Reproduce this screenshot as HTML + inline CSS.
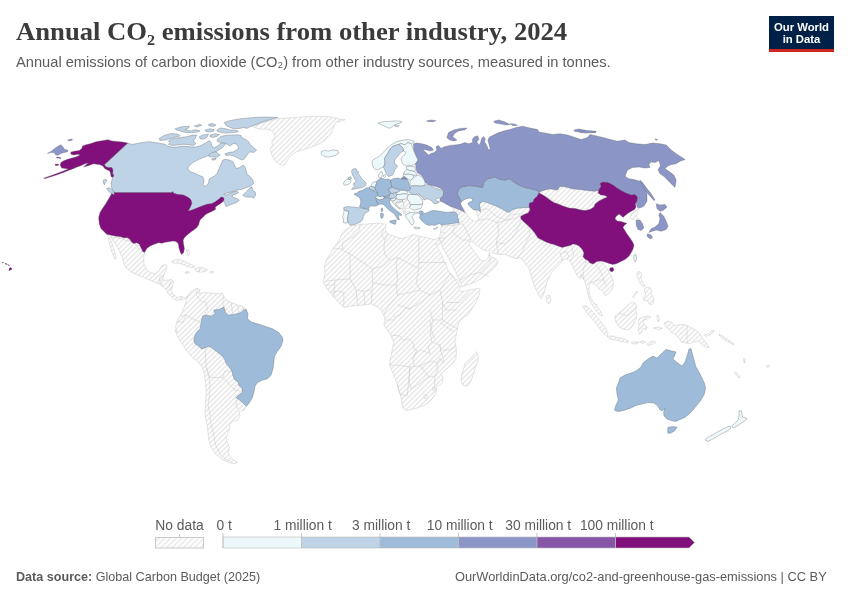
<!DOCTYPE html>
<html lang="en">
<head>
<meta charset="utf-8">
<title>Annual CO₂ emissions from other industry, 2024</title>
<style>
html,body{margin:0;padding:0;background:#fff;}
body{width:850px;height:600px;position:relative;overflow:hidden;font-family:"Liberation Sans",sans-serif;}
.t{position:absolute;white-space:nowrap;transform-origin:0 0;line-height:1;}
#title{left:16px;top:19px;transform:scaleX(1.025);font-family:"Liberation Serif",serif;font-weight:bold;font-size:26px;color:#3b3b3b;}
#sub{left:16px;top:54px;font-size:15px;transform:scaleX(0.977);color:#5b5b5b;}
#logo{position:absolute;left:769px;top:16px;width:65px;height:33px;background:#002147;border-bottom:3px solid #ce261e;color:#fff;font-weight:bold;font-size:11.3px;text-align:center;}
#logo span{position:absolute;left:0;width:65px;line-height:1;white-space:nowrap;}
#src{left:16px;top:570px;font-size:13px;transform:scaleX(0.968);color:#5b5b5b;}
#url{right:23.5px;top:570px;font-size:13px;transform:scaleX(0.987);color:#5b5b5b;transform-origin:100% 0;}
svg{position:absolute;left:0;top:0;}
.lg{font-size:13.8px;fill:#5b5b5b;font-family:"Liberation Sans",sans-serif;}
.nd{fill:url(#hatch);stroke:#c8c8c8;stroke-width:.5;stroke-linejoin:round;}
.sea{fill:#fff;stroke:#c8c8c8;stroke-width:.5}
.bl{fill:none;stroke:#c8c8c8;stroke-width:.5;stroke-linejoin:round}
.c1{fill:#edf8fb}.c2{fill:#bfd3e6}.c3{fill:#9ebcda}.c4{fill:#8c96c6}.c5{fill:#8856a7}.c6{fill:#810f7c}
.c1,.c2,.c3,.c4,.c5,.c6{stroke:#5a5f66;stroke-width:.35;stroke-linejoin:round;}
</style>
</head>
<body>
<div id="title" class="t">Annual CO₂ emissions from other industry, 2024</div>
<div id="sub" class="t">Annual emissions of carbon dioxide (CO₂) from other industry sources, measured in tonnes.</div>
<div id="logo"><span style="top:5.9px" id="l1">Our World</span><span style="top:17.9px" id="l2">in Data</span></div>
<svg width="850" height="600" viewBox="0 0 850 600">
<defs>
<pattern id="hatch" patternUnits="userSpaceOnUse" width="3.6" height="3.6" patternTransform="rotate(45)">
<rect width="3.6" height="3.6" fill="#fff"/>
<line x1="0.9" y1="0" x2="0.9" y2="3.6" stroke="#eaeaea" stroke-width="1.7"/>
</pattern>
<pattern id="hatch2" patternUnits="userSpaceOnUse" width="4" height="4" patternTransform="rotate(45)">
<rect width="4" height="4" fill="#fff"/>
<line x1="1" y1="0" x2="1" y2="4" stroke="#e4e4e4" stroke-width="1.2"/>
</pattern>
</defs>
<g id="map">
<path class="nd" d="M253.3,126.7L260.0,123.4L270.0,120.9L277.6,118.7L288.4,118.0L300.1,117.0L313.5,116.4L325.2,116.4L333.5,117.2L338.5,119.2L345.2,119.7L340.2,121.4L335.2,122.6L334.4,125.9L332.7,129.2L331.9,132.6L328.5,135.9L325.2,140.1L321.8,142.6L316.8,144.8L311.8,146.8L306.8,148.8L301.8,150.1L296.8,151.8L292.6,154.3L289.3,157.6L286.8,161.0L285.1,164.3L281.7,165.5L278.4,163.5L275.1,161.0L272.6,156.8L270.9,152.6L270.4,148.4L272.6,145.1L271.7,141.8L273.4,139.3L275.1,135.9L273.4,132.6L270.9,130.1L266.7,129.2L261.7,129.2L256.7,128.7Z"/>
<path class="nd" d="M631.2,213.8L636.2,210.0L638.8,208.0L637.5,212.5L636.2,216.2L638.8,219.5L636.2,220.5L632.5,219.5L630.0,217.5Z"/>
<path class="nd" d="M538.8,193.0L542.5,190.5L550.0,188.8L557.5,190.0L560.0,186.2L566.2,187.0L572.5,188.8L580.0,189.5L587.5,190.5L595.0,191.2L600.0,190.0L603.8,193.8L607.5,197.5L602.5,198.8L597.5,201.2L595.0,206.2L592.5,209.5L585.0,210.5L575.0,208.8L565.0,208.0L560.0,205.0L555.0,201.2L550.0,198.8L545.0,196.2Z"/>
<path class="nd" d="M396.0,202.5L398.0,201.8L400.5,202.0L403.0,201.5L404.0,204.0L403.5,206.5L402.0,208.0L400.5,209.0L398.0,206.5L395.5,204.0Z"/>
<path class="nd" d="M403.0,201.5L402.0,199.8L405.0,199.0L407.5,199.5L409.5,202.0L410.5,205.0L409.5,207.5L408.0,209.0L406.0,208.5L404.0,207.0L403.5,206.5L404.0,204.0Z"/>
<path class="nd" d="M403.5,211.2L405.0,210.6L406.0,212.5L405.6,215.6L404.4,215.0L403.5,213.1Z"/>
<path class="nd" d="M406.0,212.5L408.1,211.2L410.0,211.2L410.0,212.5L407.5,213.8L405.6,214.4Z"/>
<path class="nd" d="M401.9,208.8L403.8,208.1L405.6,209.4L405.0,210.6L403.5,211.2L402.2,210.2Z"/>
<path class="nd" d="M418.5,194.0L420.5,195.5L422.5,197.5L424.0,199.0L423.5,200.0L422.0,199.5L420.5,197.5L419.0,195.5Z"/>
<path class="nd" d="M451.0,206.0L455.0,207.8L459.0,209.5L462.0,211.0L464.0,212.5L467.0,213.0L470.0,212.0L472.0,214.0L471.0,216.0L468.0,217.0L465.0,217.5L462.0,216.5L459.0,215.0L457.0,213.5L455.0,212.0L454.0,210.0L452.5,208.5Z"/>
<path class="nd" d="M351.2,226.2L360.0,224.5L370.0,223.8L380.0,223.0L386.2,224.5L385.0,228.8L387.5,233.8L393.8,236.2L402.5,238.8L408.8,236.2L413.8,234.5L418.8,236.2L427.5,238.0L435.0,239.5L439.0,237.5L440.5,242.0L438.5,245.5L436.5,243.5L435.5,244.0L437.0,246.5L439.5,251.0L442.5,257.0L445.5,263.0L447.5,269.0L449.5,273.0L451.5,274.0L454.0,278.5L457.0,282.5L460.0,287.0L459.0,289.5L461.0,291.5L465.0,291.0L470.0,290.0L475.0,289.0L479.0,288.2L480.0,289.5L479.5,293.0L478.5,297.0L476.5,301.5L474.0,306.0L471.0,310.5L468.0,315.0L462.5,318.0L458.8,322.5L457.5,328.8L456.2,335.0L455.0,341.2L456.2,347.5L456.4,353.0L456.0,359.0L453.0,363.0L449.0,367.0L444.0,371.0L441.0,374.0L443.0,377.0L442.4,382.0L440.0,385.0L437.0,386.0L436.4,390.0L435.0,395.0L432.0,399.0L428.0,403.0L423.0,406.0L417.0,408.0L411.0,409.6L406.0,410.4L403.0,408.0L402.0,403.0L401.0,397.0L399.0,391.0L397.0,384.0L395.0,378.0L392.0,371.0L389.6,365.0L390.0,360.0L391.2,355.0L392.5,348.8L393.8,342.5L391.2,336.2L387.5,330.0L383.8,325.0L385.0,320.0L383.8,315.0L381.2,310.0L376.2,306.2L371.2,303.8L365.0,305.0L357.5,305.5L350.0,306.2L343.8,307.5L338.8,302.5L333.8,297.5L330.0,292.5L326.2,287.5L323.0,282.5L323.8,278.8L325.0,272.5L324.5,266.2L326.2,260.0L330.0,253.8L333.8,247.5L338.8,241.2L341.2,235.0L345.0,230.0Z"/>
<path class="nd" d="M476.0,351.6L478.0,355.0L478.4,360.0L476.0,366.0L474.0,372.0L472.0,378.0L470.0,383.0L467.0,386.0L463.0,385.6L461.0,381.0L461.6,375.0L463.6,369.0L465.0,363.0L469.0,360.0L472.0,357.0L474.4,353.6Z"/>
<path class="nd" d="M439.0,238.0L440.5,241.5L441.0,244.0L443.8,249.5L449.0,259.0L453.8,268.5L458.0,276.8L461.0,283.5L460.8,287.2L465.0,285.5L470.0,284.0L475.0,282.0L480.0,279.5L484.0,276.5L488.0,273.0L492.0,270.0L496.0,266.0L498.0,262.0L496.5,259.0L492.0,257.5L489.5,255.0L489.5,252.0L488.0,258.0L486.0,260.5L482.0,261.0L479.0,258.0L476.5,254.5L474.0,251.0L471.5,248.0L469.5,244.5L469.5,241.5L472.0,241.5L475.0,243.5L479.0,247.0L483.0,249.5L486.5,251.0L490.0,250.5L492.0,252.5L496.0,254.0L500.0,254.5L505.0,254.5L512.5,257.5L516.2,258.8L520.0,257.5L523.8,261.2L526.2,265.0L528.8,267.5L530.0,272.5L532.5,280.0L535.0,287.5L538.8,295.0L541.2,298.8L543.8,293.8L545.5,287.5L547.5,281.2L550.0,275.0L553.8,270.0L558.8,265.0L562.5,260.5L566.2,258.8L570.0,261.2L572.5,266.2L575.0,271.2L577.5,276.2L580.0,278.8L582.5,275.0L581.0,275.0L584.0,280.0L586.0,285.0L587.0,290.0L588.0,295.0L589.6,300.0L591.6,304.0L594.0,308.0L597.0,312.0L600.0,315.6L602.4,316.0L601.0,312.0L598.0,308.0L595.0,304.0L592.0,300.0L590.0,296.0L589.0,291.0L589.0,286.0L591.0,282.0L594.0,284.0L597.0,286.0L599.0,289.0L602.0,290.0L604.0,293.0L605.6,296.0L609.0,293.0L612.4,289.0L613.6,283.0L612.0,277.0L609.0,272.0L606.0,267.0L603.0,263.0L600.0,256.0L580.0,232.5L530.0,205.0L480.0,200.0L465.0,205.0L455.0,217.5L441.2,226.2L440.5,232.5L439.5,238.8Z"/>
<path class="nd" d="M546.2,296.2L549.5,295.0L551.2,300.0L548.8,303.8L546.2,301.2Z"/>
<path class="nd" d="M582.4,306.0L586.0,305.6L590.0,309.0L594.0,313.0L598.0,318.0L602.0,323.0L605.6,328.0L608.0,333.0L607.0,336.0L604.0,334.0L600.0,329.0L596.0,324.0L592.0,319.0L588.0,314.0L584.4,309.6Z"/>
<path class="nd" d="M607.0,336.4L612.0,336.0L618.0,337.6L624.0,339.0L629.0,341.0L628.0,342.4L622.0,341.6L616.0,340.0L610.0,339.0Z"/>
<path class="nd" d="M631.0,342.4L635.0,341.6L639.0,342.4L636.0,344.0L632.0,343.6Z"/>
<path class="nd" d="M640.0,341.6L644.0,341.0L646.0,342.4L642.0,343.6Z"/>
<path class="nd" d="M647.0,344.0L650.0,342.0L654.0,341.0L656.0,342.4L652.0,344.4L648.0,345.6Z"/>
<path class="nd" d="M615.0,316.0L619.0,313.0L623.0,310.0L627.0,306.0L631.0,302.4L635.0,303.0L637.0,306.0L635.6,310.0L637.0,314.0L636.0,319.0L634.0,324.0L631.0,328.0L628.0,330.0L623.0,329.0L619.0,327.0L616.4,323.0L615.0,319.0Z"/>
<path class="nd" d="M639.0,319.0L643.0,317.0L648.0,316.0L651.0,317.0L647.0,319.0L643.0,320.4L644.0,324.0L647.0,327.0L646.0,330.0L643.0,328.4L642.0,332.0L639.6,334.0L638.0,330.0L639.0,325.0L638.0,322.0Z"/>
<path class="nd" d="M637.0,272.0L640.0,271.6L641.6,275.0L641.0,279.0L643.0,283.0L645.0,286.0L643.0,287.0L640.4,284.0L638.4,280.0L637.0,276.0Z"/>
<path class="nd" d="M645.0,288.0L649.0,287.0L652.0,290.0L651.0,293.0L653.0,297.0L654.0,301.0L652.0,305.0L649.0,303.6L647.0,300.0L644.4,301.0L643.0,298.0L645.6,295.0L644.4,291.0Z"/>
<path class="nd" d="M632.4,297.0L637.0,291.0L637.6,292.0L633.6,298.0Z"/>
<path class="nd" d="M657.0,315.0L659.0,316.0L659.4,320.0L658.0,322.0L657.0,319.0Z"/>
<path class="nd" d="M664.0,323.0L668.0,321.0L672.0,322.4L674.0,325.6L678.0,325.0L684.0,324.4L690.0,327.0L696.0,330.0L700.0,334.0L703.0,339.0L707.0,344.0L709.0,347.6L705.0,347.0L701.0,344.0L698.0,341.0L694.0,342.0L690.0,343.6L686.0,343.0L681.0,342.0L679.0,338.0L675.0,334.0L671.0,332.0L669.0,329.0L666.0,327.0Z"/>
<path class="nd" d="M704.4,335.0L709.0,333.0L713.0,330.0L714.4,331.0L711.0,334.4L706.0,336.4Z"/>
<path class="nd" d="M719.0,334.0L723.0,336.4L727.0,339.0L731.0,341.6L734.0,344.0L733.6,345.0L729.0,342.4L724.0,339.6L719.6,336.0Z"/>
<path class="nd" d="M653.0,328.0L658.0,327.0L663.0,328.4L658.0,329.6Z"/>
<path class="nd" d="M734.4,372.6L736.0,372.0L739.6,376.0L740.0,378.0L738.0,377.4L735.6,374.6Z"/>
<path class="nd" d="M743.6,358.6L744.8,358.6L745.2,362.6L744.0,363.0Z"/>
<path class="nd" d="M766.0,366.0L769.0,365.0L769.6,366.6L767.0,367.4Z"/>
<path class="nd" d="M106.2,233.8L125.0,237.5L142.5,247.5L144.8,252.2L143.8,257.5L143.8,263.8L146.2,268.8L150.0,272.5L155.0,273.8L158.8,271.2L161.2,266.2L165.0,264.5L167.0,266.2L165.5,271.2L163.8,275.0L162.5,279.5L166.2,280.5L171.2,279.5L173.8,282.0L172.5,286.2L171.2,291.2L173.8,295.0L177.5,297.5L181.2,296.2L185.0,298.0L187.5,296.2L183.8,300.0L180.0,299.5L176.2,300.5L172.5,297.5L168.8,294.5L166.2,290.0L162.5,286.2L158.8,283.8L153.8,282.0L148.8,279.5L143.8,277.5L137.5,275.0L131.2,272.0L126.2,268.0L123.8,263.8L122.5,257.5L120.0,252.5L117.5,247.5L113.8,242.0L111.2,237.5Z"/>
<path class="nd" d="M108.8,237.5L111.2,241.2L113.0,246.2L115.0,252.5L116.2,258.0L115.0,259.5L113.0,255.0L111.2,250.0L110.0,245.0L108.0,240.0Z"/>
<path class="nd" d="M172.0,261.2L176.2,259.5L181.2,260.0L186.2,262.0L191.2,264.5L195.0,267.0L191.2,267.5L186.2,266.2L181.2,263.8L176.2,263.0L172.5,263.0Z"/>
<path class="nd" d="M195.0,268.8L198.8,267.5L203.8,268.0L207.5,270.0L203.8,272.0L198.8,272.0L195.5,271.2Z"/>
<path class="nd" d="M185.0,272.0L188.8,271.5L189.5,273.0L185.8,273.5Z"/>
<path class="nd" d="M210.0,271.5L213.0,271.2L213.2,272.8L210.2,273.0Z"/>
<path class="nd" d="M186.2,250.0L188.8,249.5L190.0,252.5L188.0,256.2L187.0,252.5Z"/>
<path class="nd" d="M187.5,296.2L190.0,292.5L193.8,290.0L197.5,288.0L200.0,290.0L198.8,293.8L203.8,292.5L210.0,293.0L216.2,293.8L222.5,293.0L223.8,296.2L226.2,300.0L231.2,302.5L237.5,305.0L242.5,306.2L246.2,309.5L247.0,325.0L257.5,377.5L251.2,396.2L249.5,402.5L246.2,406.2L243.8,410.5L238.8,411.2L240.0,416.2L237.5,420.0L232.5,421.2L229.5,425.0L230.0,428.8L228.0,432.5L226.2,437.5L227.5,442.5L229.5,447.5L228.0,452.5L230.0,456.2L233.8,460.0L237.5,462.5L233.8,463.8L227.5,462.0L221.2,458.8L215.5,453.8L211.2,447.5L208.8,440.0L208.0,432.5L207.0,425.0L205.5,417.5L205.0,410.0L205.5,401.2L206.2,392.5L205.5,383.8L204.5,375.0L202.5,367.5L197.5,361.2L191.2,356.2L186.2,350.0L181.2,342.5L177.5,336.2L175.0,330.0L177.0,332.5L175.5,327.5L177.0,321.2L180.0,316.2L182.5,311.2L185.0,305.0L186.2,300.0Z"/>
<path class="bl" d="M389.6,365.0L400.0,365.6L410.0,367.0L416.0,366.4L420.0,366.0"/>
<path class="bl" d="M397.0,384.0L400.0,394.0L407.0,396.0L408.0,388.0L410.0,367.0"/>
<path class="bl" d="M410.0,367.0L409.0,380.0L411.0,389.0L418.0,385.0L424.0,380.0L429.0,377.0L426.0,373.0L422.0,368.0L420.0,366.0"/>
<path class="bl" d="M420.0,366.0L426.0,363.0L432.0,361.0L437.0,363.0L437.6,370.0L435.0,376.0L429.0,377.0"/>
<path class="bl" d="M437.0,363.0L440.0,358.0L443.0,363.0L444.0,360.0L441.0,352.0L440.0,346.0"/>
<path class="bl" d="M413.0,359.0L415.0,354.0L420.0,350.0L426.0,352.0L430.0,354.0L428.0,346.0L432.0,342.0L440.0,345.0L441.0,352.0"/>
<path class="bl" d="M391.0,335.0L400.0,336.0L403.0,340.0L409.0,339.0L413.0,342.0L414.0,349.0L417.0,350.0L413.0,359.0L414.0,365.0"/>
<path class="bl" d="M430.0,320.0L431.0,328.0L430.0,334.0L432.0,342.0"/>
<path class="bl" d="M442.0,350.0L448.0,350.0L455.6,347.0"/>
<path class="bl" d="M440.0,322.0L448.0,328.0L454.0,332.0"/>
<path class="bl" d="M435.0,376.0L434.4,386.0L436.4,390.0"/>
<path class="bl" d="M423.6,395.6L426.0,394.4L427.6,397.0L425.0,399.0L423.6,395.6"/>
<path class="bl" d="M432.0,388.0L434.0,387.0L435.0,389.6L433.0,391.0L432.0,388.0"/>
<path class="bl" d="M360.0,224.5L358.8,231.2L353.8,236.2L347.5,240.0L342.5,242.5L342.5,248.8L343.8,251.2L350.0,253.8L350.0,278.8L335.0,280.0L325.0,281.2"/>
<path class="bl" d="M342.5,248.8L333.8,248.8"/>
<path class="bl" d="M350.0,253.8L372.5,268.8L382.5,266.2L390.0,260.0"/>
<path class="bl" d="M383.8,228.8L381.2,235.0L385.0,240.0L383.8,247.5L385.0,255.0L390.0,260.0L397.5,257.5"/>
<path class="bl" d="M385.0,240.0L388.0,233.8"/>
<path class="bl" d="M418.8,236.2L418.8,268.8"/>
<path class="bl" d="M397.5,257.5L402.5,260.0L418.8,268.8"/>
<path class="bl" d="M418.8,262.5L446.2,262.5"/>
<path class="bl" d="M397.5,257.5L396.2,263.8L397.5,280.0L396.2,285.0"/>
<path class="bl" d="M372.5,268.8L372.5,282.5L385.0,285.0L396.2,285.0"/>
<path class="bl" d="M418.8,268.8L416.2,282.5L420.0,290.0"/>
<path class="bl" d="M420.0,290.0L430.0,295.0L440.0,290.0L446.2,280.0L450.0,273.8"/>
<path class="bl" d="M450.0,273.8L460.0,282.5"/>
<path class="bl" d="M446.2,302.5L460.0,302.5L470.0,292.5"/>
<path class="bl" d="M440.0,290.0L442.5,302.5L446.2,310.0L457.5,310.0"/>
<path class="bl" d="M372.5,282.5L371.2,303.8"/>
<path class="bl" d="M396.2,285.0L397.5,295.0L387.5,307.5L383.8,315.0"/>
<path class="bl" d="M397.5,295.0L410.0,292.5L420.0,290.0"/>
<path class="bl" d="M397.5,305.0L410.0,308.8L420.0,302.5L430.0,295.0"/>
<path class="bl" d="M393.8,317.5L400.0,315.0L406.2,307.5L410.0,308.8"/>
<path class="bl" d="M385.0,320.0L395.0,320.0"/>
<path class="bl" d="M442.5,302.5L442.5,320.0L446.2,322.5L457.5,328.8"/>
<path class="bl" d="M432.5,320.0L442.5,320.0"/>
<path class="bl" d="M430.0,310.0L432.5,320.0L431.2,330.0L435.0,340.0"/>
<path class="bl" d="M335.0,280.0L333.8,297.5"/>
<path class="bl" d="M343.8,292.5L343.8,307.5"/>
<path class="bl" d="M356.2,290.0L357.5,305.5"/>
<path class="bl" d="M363.8,291.2L365.0,305.0"/>
<path class="bl" d="M350.0,278.8L356.2,290.0L363.8,291.2L371.2,290.0"/>
<path class="bl" d="M325.0,285.0L335.0,285.0"/>
<path class="bl" d="M330.0,292.5L337.5,291.2L343.8,292.5"/>
<path class="bl" d="M442.5,226.2L455.0,225.0L462.5,223.8"/>
<path class="bl" d="M462.5,223.8L467.5,232.5L471.2,240.0"/>
<path class="bl" d="M455.0,225.0L452.5,232.5L445.0,237.5L442.0,243.8"/>
<path class="bl" d="M452.5,232.5L462.5,240.0L471.2,240.0"/>
<path class="bl" d="M460.5,280.0L470.0,275.0L480.0,272.5L488.8,276.2"/>
<path class="bl" d="M480.0,272.5L490.0,262.5L490.0,255.0"/>
<path class="bl" d="M475.0,221.2L487.5,218.8L497.5,222.5L498.8,232.5L496.2,242.5L498.8,255.0"/>
<path class="bl" d="M497.5,222.5L507.5,220.0L517.5,217.5L523.0,213.8"/>
<path class="bl" d="M496.2,242.5L505.0,243.8L512.5,237.5L517.5,230.0L520.0,222.5L523.0,213.8"/>
<path class="bl" d="M516.2,258.8L522.5,251.2L526.2,242.5L530.0,235.0L528.8,227.5L525.0,222.5"/>
<path class="bl" d="M477.5,210.0L487.5,208.8L497.5,217.5L507.5,220.0"/>
<path class="bl" d="M507.5,220.0L510.0,215.0L520.0,213.8"/>
<path class="bl" d="M562.5,260.5L560.0,253.8L566.2,251.2L568.8,256.2L566.2,258.8"/>
<path class="bl" d="M571.2,245.0L573.8,255.0L570.0,261.2"/>
<path class="bl" d="M441.2,232.5L445.0,232.5"/>
<path class="bl" d="M440.0,238.8L445.0,237.5"/>
<path class="bl" d="M584.0,280.0L583.0,270.0L586.0,262.0L584.0,256.0"/>
<path class="bl" d="M594.0,262.0L600.0,270.0L604.0,280.0L606.0,286.0"/>
<path class="bl" d="M591.0,282.0L598.0,280.0L604.0,280.0"/>
<path class="bl" d="M595.0,304.0L598.0,305.0"/>
<path class="bl" d="M619.0,313.0L627.0,316.0L634.0,310.0"/>
<path class="bl" d="M687.0,325.6L687.0,343.0"/>
<path class="bl" d="M586.0,262.0L594.0,262.0L600.0,256.0"/>
<path class="bl" d="M197.5,288.0L196.2,295.0L201.2,301.2L206.2,302.5L207.5,310.0L202.5,316.2"/>
<path class="bl" d="M180.0,316.2L186.2,315.0L192.5,318.8L201.2,322.5"/>
<path class="bl" d="M177.0,321.2L182.5,322.5L186.2,315.0"/>
<path class="bl" d="M223.8,296.2L222.5,302.5L225.0,311.2"/>
<path class="bl" d="M231.2,302.5L232.5,313.8"/>
<path class="bl" d="M237.5,305.0L238.8,313.0"/>
<path class="bl" d="M242.5,306.2L243.8,310.0"/>
<path class="bl" d="M144.8,252.2L140.0,250.0L133.8,242.5L125.0,240.0L117.5,237.5L111.2,237.5"/>
<path class="bl" d="M163.8,275.0L160.0,276.2L158.8,283.8"/>
<path class="bl" d="M162.5,279.5L160.0,281.2L162.5,286.2"/>
<path class="bl" d="M171.2,279.5L170.0,285.0L166.2,290.0"/>
<path class="bl" d="M172.5,286.2L168.8,290.0"/>
<path class="bl" d="M173.8,295.0L172.5,297.5"/>
<path class="bl" d="M181.2,296.2L180.0,299.5"/>
<path class="bl" d="M198.8,267.5L199.5,272.0"/>
<path class="bl" d="M205.0,348.0L205.5,357.5L206.2,367.5"/>
<path class="bl" d="M206.2,367.5L210.0,377.5L222.5,377.5L225.0,371.2L232.5,371.2"/>
<path class="bl" d="M222.5,377.5L235.0,390.0L240.0,391.2"/>
<path class="bl" d="M208.8,376.2L210.0,385.0L209.5,395.0L208.0,405.0L210.0,415.0L211.2,425.0L213.8,435.0L215.5,445.0L220.0,453.8L225.0,458.8L230.0,461.2"/>
<path class="bl" d="M236.2,397.5L236.2,405.0L237.5,408.8"/>
<path class="bl" d="M206.2,367.5L208.8,376.2"/>
<path class="sea" d="M460.0,202.5L461.5,201.0L464.5,199.2L468.0,198.0L471.2,197.8L472.8,199.5L472.0,201.7L469.6,202.4L468.0,203.6L469.2,205.5L471.2,207.5L473.6,209.5L475.6,210.0L476.6,212.0L477.6,215.0L478.6,218.0L478.3,220.5L476.0,221.6L473.5,220.6L471.0,219.6L469.0,217.6L467.0,215.0L465.5,212.2L464.0,209.6L462.2,206.6L460.8,205.0Z"/>
<path class="c1" d="M321.0,151.8L324.3,150.5L328.5,151.0L333.5,149.8L337.7,150.6L338.9,153.1L336.0,155.1L331.9,156.5L327.7,157.1L323.5,156.0L321.5,154.3Z"/>
<path class="c1" d="M378.0,123.1L383.4,121.7L389.2,121.4L395.9,120.9L401.8,121.4L400.9,123.1L397.6,123.7L394.2,125.1L391.7,127.1L389.2,128.4L385.9,126.7L381.7,125.1Z"/>
<path class="c1" d="M394.2,125.4L399.3,125.4L398.4,126.7L395.1,126.4Z"/>
<path class="c1" d="M634.0,255.0L636.0,254.6L636.6,258.0L635.4,262.0L633.8,260.0Z"/>
<path class="c1" d="M343.5,183.5L344.5,181.0L346.5,179.5L348.0,179.0L350.0,179.5L351.0,180.5L350.5,182.5L349.0,184.0L346.5,185.0L344.2,185.2Z"/>
<path class="c1" d="M371.5,184.0L373.0,182.2L376.0,181.5L376.5,183.5L375.5,185.8L375.0,188.0L373.5,186.8L371.0,186.2Z"/>
<path class="c1" d="M378.5,175.0L380.0,172.5L382.0,171.5L382.5,173.5L382.0,176.0L381.0,178.0L379.5,178.0L378.5,176.5Z"/>
<path class="c1" d="M383.5,175.0L385.5,174.5L386.0,176.5L384.5,177.5L383.5,176.5Z"/>
<path class="c1" d="M376.5,198.5L375.5,197.5L376.5,196.5L377.5,195.8L380.0,196.5L382.0,196.0L384.0,196.5L384.2,197.5L383.5,199.0L381.5,199.5L379.5,200.0L378.0,199.5Z"/>
<path class="c1" d="M398.0,192.0L400.0,190.5L404.0,190.0L407.0,191.0L408.0,192.5L406.0,194.0L403.0,194.0L400.0,194.5L397.0,194.5L395.5,192.8Z"/>
<path class="c1" d="M397.0,194.5L400.0,194.5L403.0,194.0L406.0,194.0L408.5,194.5L407.5,197.0L405.0,199.0L402.0,199.8L399.0,200.0L396.5,198.5L396.0,196.5Z"/>
<path class="c1" d="M391.0,198.5L394.0,198.0L396.5,198.5L395.5,200.0L393.0,201.0L391.0,200.8L390.5,200.0Z"/>
<path class="c1" d="M393.0,201.0L395.5,200.0L396.5,198.5L399.0,200.0L402.0,199.8L403.0,201.5L400.5,202.0L398.0,201.8L396.0,202.5L395.5,204.0L398.0,206.5L400.5,209.0L399.0,208.8L396.0,206.0L394.0,203.5L392.5,202.5Z"/>
<path class="c1" d="M407.5,197.0L408.5,194.5L411.5,194.5L415.0,194.5L418.0,195.0L420.5,197.5L422.0,200.0L423.0,202.0L422.5,204.0L420.0,204.5L417.0,204.8L414.0,204.5L411.5,204.5L410.5,205.0L409.5,202.0L407.5,199.5Z"/>
<path class="c1" d="M410.5,205.0L411.5,204.5L414.0,204.5L417.0,204.8L420.0,204.5L422.5,204.0L422.0,206.5L421.0,208.5L418.0,209.0L415.0,210.0L412.0,209.5L409.5,207.5Z"/>
<path class="c1" d="M372.0,161.0L373.5,159.5L376.0,158.0L379.0,156.5L381.0,154.5L383.5,152.0L386.5,149.0L389.5,146.0L392.5,144.0L396.0,142.0L400.0,140.8L405.0,139.8L409.0,139.8L412.5,140.5L414.5,141.5L413.0,142.5L411.5,144.0L409.0,142.8L407.0,143.0L405.5,144.5L403.5,144.5L401.0,143.5L398.5,144.5L397.0,145.0L395.0,145.5L392.5,146.5L390.5,148.5L389.0,151.0L387.5,154.0L385.5,156.5L384.5,159.0L385.0,162.0L384.5,165.0L383.5,167.0L381.0,168.0L378.0,169.5L375.5,169.5L373.5,168.0L372.5,165.0Z"/>
<path class="c1" d="M398.5,144.5L401.0,143.5L403.5,144.5L405.5,144.5L407.0,143.0L409.0,142.8L411.5,144.0L412.0,146.0L413.0,148.5L414.0,151.0L415.5,154.0L417.0,156.5L419.0,159.0L418.0,161.0L416.0,163.5L414.0,164.8L410.5,165.5L407.0,165.8L404.5,165.0L402.5,163.5L401.5,161.0L401.0,158.5L402.5,156.5L405.0,154.5L406.0,152.5L403.5,151.0L403.0,148.5L401.0,146.0Z"/>
<path class="c1" d="M406.0,167.0L409.0,166.2L412.0,166.5L415.0,167.0L415.5,169.5L415.0,171.5L412.0,171.0L409.5,170.5L407.0,169.5Z"/>
<path class="c1" d="M403.5,174.0L404.5,171.5L407.0,169.5L409.5,170.5L412.0,171.0L415.0,171.5L416.5,174.0L417.0,175.0L414.0,175.5L411.0,174.5L408.0,174.0L406.0,174.5Z"/>
<path class="c1" d="M403.5,174.0L406.0,174.5L408.0,174.0L411.0,174.5L414.0,175.5L413.0,178.0L411.0,180.0L408.5,180.0L407.5,179.0L405.0,177.0L403.5,176.5Z"/>
<path class="c1" d="M343.8,209.4L345.6,210.6L348.8,211.2L348.1,215.0L347.5,219.4L348.1,222.8L345.6,223.1L343.1,222.5L343.5,219.4L342.5,216.9L343.5,213.8L344.0,211.2Z"/>
<path class="c1" d="M405.6,215.6L407.5,213.8L410.0,212.5L413.1,212.5L416.2,211.9L418.1,212.5L416.2,213.8L413.8,213.8L413.1,215.6L411.9,216.9L413.1,219.4L414.4,221.9L413.1,224.4L411.5,225.0L410.0,223.1L408.8,220.6L407.2,218.8L406.2,217.2Z"/>
<path class="c1" d="M414.0,227.2L416.9,227.2L420.0,227.8L419.8,228.8L416.2,228.8L414.4,228.2Z"/>
<path class="c1" d="M433.5,228.5L435.6,227.8L437.8,226.9L436.9,228.5L435.0,229.5L433.8,229.2Z"/>
<path class="c1" d="M410.0,181.5L412.0,179.0L415.0,176.5L418.0,175.0L420.5,176.0L422.5,178.0L424.5,180.0L426.5,181.5L425.0,183.5L424.0,185.5L421.0,186.2L417.0,185.8L413.5,185.8L411.0,186.2L410.0,184.0Z"/>
<path class="c1" d="M739.0,411.0L741.0,410.6L742.0,414.0L742.4,417.0L747.0,418.6L744.0,421.4L740.0,424.0L736.0,426.6L733.0,428.0L732.0,426.0L735.0,423.0L738.0,420.0L739.0,416.0Z"/>
<path class="c1" d="M705.6,439.0L709.0,436.6L714.0,434.0L720.0,430.6L726.0,427.4L730.0,426.0L731.0,428.0L728.0,430.6L722.4,433.4L717.0,436.6L712.0,439.4L708.0,441.4L705.6,440.6Z"/>
<path class="c2" d="M127.7,143.1L131.9,144.4L136.9,143.6L141.9,142.6L146.9,141.9L149.9,141.7L150.0,141.7L155.0,142.6L160.0,143.4L165.0,144.2L167.5,145.9L171.7,147.1L176.7,147.1L183.4,146.1L190.1,146.8L195.9,147.1L200.1,145.8L205.1,143.4L209.3,140.6L211.1,142.6L211.8,145.9L214.3,147.8L217.7,145.9L220.2,143.4L223.5,142.6L225.5,144.2L222.2,147.8L217.2,150.9L212.1,153.8L205.5,156.8L198.8,159.3L192.8,162.6L188.3,166.8L187.8,168.8L190.3,171.8L194.4,173.1L198.6,175.2L202.8,176.8L204.0,180.2L203.1,184.3L204.5,186.5L207.0,185.5L208.6,182.7L209.0,179.3L211.1,177.7L214.5,176.0L217.0,173.5L218.7,169.3L220.3,166.0L221.7,162.6L222.8,160.1L225.3,159.3L229.5,160.1L232.9,161.8L234.5,165.1L236.2,168.5L239.5,167.6L242.9,165.1L245.1,166.8L246.2,171.0L247.1,174.3L250.4,176.8L252.9,180.2L253.7,183.5L250.4,186.0L246.2,187.7L241.2,189.4L236.2,190.2L232.0,191.9L227.8,192.7L223.7,194.4L226.0,195.2L229.4,193.5L233.5,191.9L236.9,191.0L238.5,192.7L235.2,194.4L231.9,195.5L233.5,197.7L236.9,198.5L239.4,200.2L236.9,202.2L232.7,203.9L228.5,205.6L226.0,206.6L224.8,203.6L223.5,201.0L216.8,203.6L200.1,208.6L198.6,220.1L140.1,220.1L115.1,220.1L116.9,200.2L115.2,193.5L113.5,191.0L111.9,188.5L111.0,184.3L111.9,180.1L112.7,177.1L110.7,173.5L109.9,171.0L107.2,169.8L104.8,168.4L104.3,164.8Z"/>
<path class="c2" d="M216.8,140.1L220.2,136.7L225.2,135.4L231.9,135.1L236.9,134.7L241.0,135.4L241.5,137.6L246.1,139.7L248.6,141.7L250.2,144.7L253.6,147.6L256.6,150.1L253.6,152.6L250.2,151.8L247.7,153.8L246.1,156.8L243.2,160.1L240.2,159.3L236.9,157.6L233.5,155.9L230.2,155.1L226.0,155.4L224.8,153.8L228.5,152.6L233.5,151.8L236.9,150.1L238.5,147.6L236.9,144.2L233.5,143.4L230.2,145.9L226.0,143.4L221.8,142.6L217.7,141.7Z"/>
<path class="c2" d="M224.3,122.5L228.5,120.9L236.9,119.2L243.6,118.4L253.6,117.5L266.9,117.0L277.8,117.5L270.3,119.7L263.6,121.7L256.9,124.2L250.2,126.7L246.9,128.4L243.6,127.5L240.2,128.4L233.5,128.7L230.2,127.5L226.8,125.9L225.2,124.2Z"/>
<path class="c2" d="M159.2,138.4L164.2,135.4L171.7,133.4L178.4,134.2L180.1,135.9L175.1,137.1L170.0,138.7L165.0,140.1L160.0,140.4Z"/>
<path class="c2" d="M168.4,140.9L173.4,138.4L180.1,137.6L186.8,136.7L192.6,135.1L196.8,135.1L195.1,138.4L193.4,140.9L195.9,143.4L193.4,145.4L188.4,144.7L183.4,144.2L177.6,145.1L171.7,145.4L168.4,144.2L170.0,142.6Z"/>
<path class="c2" d="M175.1,128.7L181.7,126.7L189.3,126.2L188.4,128.0L185.1,129.7L190.1,130.9L195.1,129.7L200.1,130.9L197.6,132.1L191.8,132.6L185.9,132.6L180.1,130.9L175.9,129.7Z"/>
<path class="c2" d="M205.1,130.0L210.1,128.7L214.3,129.7L213.5,131.4L208.5,132.1L206.0,131.4Z"/>
<path class="c2" d="M216.8,130.0L220.2,128.0L225.2,128.7L230.2,130.0L236.9,130.4L238.5,131.7L233.5,132.6L226.8,133.1L221.0,132.6L217.7,131.4Z"/>
<path class="c2" d="M199.3,136.7L203.5,134.7L208.5,134.2L206.8,137.6L203.5,139.2L200.1,138.7Z"/>
<path class="c2" d="M210.1,135.1L215.2,133.7L219.3,134.7L216.8,136.4L212.6,137.6L209.8,136.7Z"/>
<path class="c2" d="M208.5,124.2L212.6,123.4L216.0,125.0L213.5,126.4L209.3,125.9Z"/>
<path class="c2" d="M194.3,125.9L200.1,124.2L201.8,125.4L196.8,127.0Z"/>
<path class="c2" d="M208.5,155.1L211.8,152.6L216.0,151.8L220.2,155.1L216.8,157.3L212.6,156.8L209.3,156.8Z"/>
<path class="c2" d="M211.8,158.8L216.0,158.1L215.5,159.8L212.1,160.1Z"/>
<path class="c2" d="M242.7,195.2L246.1,191.9L249.4,188.2L251.9,186.8L252.7,190.2L255.2,191.9L255.6,195.2L253.6,198.2L251.1,196.9L248.6,197.2L245.2,196.5Z"/>
<path class="c2" d="M106.5,188.5L109.4,187.7L112.7,190.2L114.7,193.5L113.5,195.2L111.0,193.5L108.5,191.0Z"/>
<path class="c2" d="M103.5,180.1L106.0,179.3L106.8,181.0L105.2,182.6L104.3,184.8L103.2,182.6Z"/>
<path class="c2" d="M351.5,171.0L353.0,169.0L355.5,168.5L357.0,169.5L356.0,171.0L358.5,171.5L358.0,173.5L359.5,175.0L361.5,178.5L363.5,180.5L365.0,181.5L366.0,183.5L365.5,185.5L363.5,187.0L360.0,188.0L357.0,188.5L354.0,189.2L351.5,189.5L353.0,187.8L355.5,186.5L354.0,185.5L353.0,184.0L355.0,182.5L356.0,180.5L354.5,179.0L354.0,177.0L352.5,175.0L352.0,173.0Z"/>
<path class="c2" d="M348.0,177.5L350.5,176.8L351.5,178.5L350.0,179.5L348.0,179.0Z"/>
<path class="c2" d="M369.0,187.0L371.0,186.2L373.5,186.8L375.0,188.0L375.5,190.0L374.0,191.0L371.5,190.0L369.0,188.5Z"/>
<path class="c2" d="M388.0,189.5L389.5,188.5L392.0,187.0L393.5,187.5L395.5,188.5L398.0,189.0L400.0,190.5L398.0,192.0L395.5,192.8L393.0,193.5L390.5,193.5L390.0,192.0Z"/>
<path class="c2" d="M384.0,196.5L387.0,196.0L389.5,196.0L389.0,194.5L390.5,193.5L393.0,193.5L395.5,192.8L397.0,194.5L396.0,196.5L394.0,198.0L391.0,198.5L388.5,198.0L386.0,197.8L384.2,197.5Z"/>
<path class="c2" d="M384.5,159.0L385.5,156.5L387.5,154.0L389.0,151.0L390.5,148.5L392.5,146.5L395.0,145.5L397.0,145.0L398.5,144.5L401.0,146.0L403.0,148.5L403.5,151.0L401.5,152.0L399.5,154.0L398.0,156.0L396.0,158.0L394.5,160.5L394.5,163.0L396.5,165.0L397.5,166.5L396.0,168.5L394.5,170.5L394.0,173.0L392.5,175.0L390.0,176.0L388.5,176.5L387.0,174.5L385.5,172.0L384.5,169.5L383.5,167.0L384.5,165.0L385.0,162.0Z"/>
<path class="c2" d="M343.8,207.5L347.5,206.5L352.5,206.9L357.5,207.5L361.9,208.1L366.2,209.0L369.4,209.8L368.8,211.2L366.2,212.5L364.4,214.4L363.1,216.9L362.8,219.4L360.6,221.9L358.1,223.1L355.0,224.4L351.9,225.0L350.6,225.6L349.4,224.0L348.1,222.8L347.5,219.4L348.1,215.0L348.8,211.2L345.6,210.6L343.8,209.4Z"/>
<path class="c2" d="M409.0,190.5L411.0,186.2L413.5,185.8L417.0,185.8L421.0,186.2L424.0,185.5L427.0,184.5L429.5,184.5L432.0,186.5L435.0,188.0L438.0,189.0L441.0,190.0L443.5,191.5L443.8,194.5L442.0,196.5L440.8,198.3L439.0,198.0L436.5,198.5L435.5,200.0L436.5,201.0L438.5,201.3L439.5,202.0L437.0,203.5L434.5,204.0L433.0,202.5L432.0,201.0L430.0,200.0L428.0,199.0L426.0,199.0L424.5,200.0L424.0,199.0L422.5,197.5L420.5,195.5L418.5,194.0L415.5,194.5L413.0,194.5L410.5,193.5L409.0,192.0Z"/>
<path class="c3" d="M458.5,190.0L461.2,187.0L468.8,185.5L476.2,186.2L482.5,187.5L483.8,182.5L487.5,178.8L495.0,177.0L500.0,179.5L505.0,180.0L510.0,178.8L513.8,182.0L518.8,185.0L525.0,187.5L531.2,188.8L538.0,190.5L539.0,192.5L539.0,196.2L536.2,198.8L533.8,202.5L533.8,207.5L525.0,207.5L520.0,208.0L516.0,208.5L512.0,210.0L509.0,212.5L506.0,211.5L502.0,209.0L497.0,206.5L492.0,204.5L487.0,202.5L483.0,201.5L479.5,203.5L480.0,208.0L480.5,212.0L478.0,210.0L475.5,210.0L473.5,209.5L471.0,207.5L469.0,205.5L467.8,203.5L469.5,202.2L471.8,201.5L472.5,199.5L471.0,198.0L468.0,198.2L464.5,199.5L461.5,201.5L460.0,199.0L458.0,196.0L457.2,193.0Z"/>
<path class="c3" d="M419.5,217.5L420.0,215.5L422.5,214.0L425.0,213.2L428.0,212.5L430.0,211.2L433.0,210.5L437.0,210.8L441.0,211.5L445.0,212.2L449.0,212.2L452.0,211.8L455.0,212.0L456.5,213.5L457.5,215.0L457.2,217.0L458.5,219.0L459.0,221.5L458.8,223.2L456.5,222.8L454.0,223.2L451.0,223.8L448.0,224.2L445.0,224.5L443.0,224.2L442.0,225.8L441.0,224.5L439.0,223.5L437.0,224.5L434.5,225.5L432.0,224.8L429.5,225.5L427.0,224.8L425.0,223.5L423.0,222.0L421.0,220.0Z"/>
<path class="c3" d="M418.5,213.0L419.5,211.2L421.5,210.8L423.0,211.8L423.5,213.0L422.0,214.0L420.0,214.5Z"/>
<path class="c3" d="M354.0,194.0L356.5,193.0L358.5,192.5L359.0,191.0L361.5,190.8L363.5,189.5L367.0,187.5L369.0,188.5L371.5,190.0L374.0,191.0L376.5,192.0L378.0,192.5L377.5,194.5L376.5,196.0L375.5,197.5L376.5,198.5L375.5,199.5L376.5,201.0L377.5,203.0L378.5,204.5L377.0,205.8L374.5,206.2L371.5,205.8L369.0,207.0L368.5,209.0L365.0,208.5L362.0,207.8L359.5,206.8L360.5,204.0L360.8,201.0L360.0,198.5L358.0,196.5L355.5,195.2Z"/>
<path class="c3" d="M381.2,208.5L382.5,208.0L382.7,210.5L381.8,212.0L381.0,210.5Z"/>
<path class="c3" d="M376.5,181.5L378.0,180.0L380.0,179.0L380.5,178.0L383.0,178.5L385.0,179.5L388.0,179.0L390.5,180.0L391.0,182.5L391.5,185.0L392.0,187.0L389.5,188.5L388.0,189.5L390.0,192.0L390.5,193.5L389.0,194.5L389.5,196.0L387.0,196.0L384.0,196.5L382.0,196.0L380.0,196.5L377.5,195.8L378.0,192.5L376.5,192.0L375.5,190.0L375.0,188.0L375.5,185.8L376.5,183.5Z"/>
<path class="c3" d="M390.5,180.0L394.0,178.5L398.0,178.0L401.5,179.0L407.0,179.2L408.5,181.5L409.0,184.0L410.0,186.5L410.5,189.0L409.0,190.5L407.0,191.0L404.0,190.0L401.0,190.0L398.0,189.0L395.5,188.5L393.5,187.5L392.0,187.0L391.5,185.0L391.0,182.5Z"/>
<path class="c3" d="M376.5,201.0L376.5,198.5L378.0,199.5L379.5,200.0L381.5,199.5L383.5,199.0L384.2,197.5L386.0,197.8L388.5,198.0L391.0,198.5L390.5,200.0L389.5,201.5L390.0,203.5L391.5,206.0L394.0,208.5L397.0,211.0L400.0,213.0L402.0,215.0L400.5,215.5L399.0,214.5L398.5,217.0L399.5,219.5L398.0,220.0L396.5,217.5L395.0,214.5L392.5,212.5L389.5,210.5L387.0,208.0L385.0,206.0L383.5,204.5L381.0,204.0L378.5,204.5L377.5,203.0Z"/>
<path class="c3" d="M380.5,213.5L382.5,213.0L383.5,214.5L383.0,217.5L381.2,218.5L380.5,216.0Z"/>
<path class="c3" d="M389.8,221.0L392.5,220.6L396.2,220.0L396.0,222.2L395.2,224.4L392.5,223.5L390.0,222.2Z"/>
<path class="c3" d="M614.4,409.4L616.0,405.0L618.4,400.0L617.0,394.0L616.4,388.0L618.4,383.0L620.0,378.0L625.0,375.0L631.0,373.0L636.0,371.0L641.0,367.0L643.0,363.0L648.0,359.0L653.0,356.0L657.0,358.0L661.0,354.0L666.0,349.4L670.0,350.6L676.0,352.0L674.4,356.0L673.0,359.0L677.0,362.6L682.0,366.0L685.0,362.0L687.0,356.0L689.0,349.0L691.0,348.6L692.4,354.0L694.0,360.0L696.0,367.0L699.0,372.0L702.0,378.0L704.4,383.0L705.6,388.0L704.4,394.0L701.0,400.0L697.0,405.0L693.0,410.0L689.0,414.0L685.0,417.4L680.0,419.4L676.0,421.4L671.0,420.6L667.0,419.0L664.0,416.0L663.6,412.0L665.0,408.0L662.0,411.0L659.6,409.4L658.0,406.0L654.0,403.0L648.0,402.6L642.0,404.0L636.0,405.4L631.0,408.0L625.0,410.0L619.0,411.4L615.6,411.0Z"/>
<path class="c3" d="M668.0,427.4L672.4,426.6L677.0,427.0L675.0,430.6L671.0,433.0L668.0,433.4L667.6,430.6Z"/>
<path class="c3" d="M202.5,316.2L206.2,315.0L211.2,316.2L215.0,313.8L213.8,310.0L218.8,309.5L223.8,307.0L225.0,311.2L227.5,315.0L233.8,314.5L240.0,313.0L243.8,310.0L246.2,309.5L248.0,313.8L247.5,318.8L251.2,322.0L257.5,323.8L265.0,326.2L272.5,328.8L278.8,332.5L282.5,337.5L283.0,340.0L281.2,346.2L277.5,351.2L274.5,356.2L273.8,362.5L273.0,368.8L271.2,375.0L267.5,378.8L262.5,380.0L257.5,382.5L255.0,386.2L253.8,392.5L252.5,397.5L249.5,402.5L246.2,406.2L242.5,402.5L238.8,399.5L236.2,397.5L239.5,394.5L242.5,392.0L242.0,388.0L238.8,385.5L238.0,382.0L235.0,380.0L233.0,376.2L232.0,371.2L229.5,367.5L226.2,363.8L224.5,358.8L221.2,355.0L216.2,351.2L212.0,348.0L208.8,346.2L205.0,348.0L201.2,348.8L198.8,346.2L195.0,343.8L193.8,340.0L195.0,335.0L196.2,332.5L200.0,328.8L201.2,322.5Z"/>
<path class="c4" d="M47.5,153.4L51.7,150.9L56.7,147.1L60.9,144.7L62.9,146.7L64.2,149.2L67.6,150.1L67.6,151.7L64.2,152.6L60.9,153.4L58.4,155.1L55.9,155.1L54.2,152.6L50.9,152.6Z"/>
<path class="c4" d="M67.6,140.0L71.8,138.9L72.6,140.0L69.3,140.9Z"/>
<path class="c4" d="M413.5,143.8L416.8,143.1L421.8,143.8L426.8,145.1L431.8,147.6L433.5,150.1L430.2,151.0L426.0,149.8L422.6,150.1L426.0,152.6L428.5,155.1L431.0,153.5L434.3,152.6L436.8,150.1L436.0,146.8L438.5,145.4L441.0,148.4L444.4,146.8L450.2,145.4L456.9,144.8L461.9,143.8L464.4,142.6L468.6,143.8L472.8,142.6L472.3,139.3L474.4,136.8L477.8,135.9L478.9,139.3L476.9,141.8L478.9,145.4L480.6,142.6L481.6,138.4L483.6,136.4L485.3,138.8L484.5,141.8L487.0,145.9L488.6,150.1L490.3,149.3L489.0,144.3L487.8,140.1L489.5,137.1L493.6,135.1L498.7,132.6L502.0,131.7L502.5,131.2L510.0,129.5L516.2,127.5L522.5,126.2L530.0,128.0L537.5,129.5L538.8,132.0L545.0,133.0L552.5,134.5L560.0,133.8L567.5,135.0L575.0,137.5L581.2,139.5L587.5,137.5L590.0,134.5L597.5,136.2L605.0,138.0L612.0,140.0L617.5,141.2L625.0,140.0L628.8,142.5L636.2,143.8L645.0,144.5L652.5,143.0L660.0,143.8L666.2,145.0L671.2,150.0L676.2,153.8L680.0,156.2L685.0,159.5L680.0,161.2L676.2,163.8L671.2,164.5L667.5,166.2L665.0,168.8L668.8,171.2L673.8,175.0L676.2,180.0L675.0,187.5L671.2,183.8L667.5,180.0L663.8,176.2L660.0,173.8L658.0,170.0L660.5,165.5L658.8,160.5L655.0,162.5L651.2,162.0L648.8,164.5L650.0,167.5L645.0,168.0L638.8,167.0L632.5,167.5L627.5,170.0L625.0,176.2L628.8,178.8L633.8,179.5L640.0,181.2L643.8,186.2L647.0,193.8L647.0,201.2L643.8,206.2L640.0,208.0L637.5,207.5L636.2,203.8L637.5,198.8L633.8,196.2L630.0,195.0L626.2,193.8L621.2,191.2L615.0,187.5L610.0,183.8L605.0,182.0L600.0,183.8L601.2,187.5L598.8,191.2L600.0,190.0L595.0,191.2L587.5,190.5L580.0,189.5L572.5,188.8L566.2,187.0L560.0,186.2L557.5,190.0L550.0,188.8L542.5,190.5L538.8,192.5L537.5,190.5L531.2,188.8L525.0,187.5L518.8,185.0L513.8,182.0L510.0,178.8L505.0,180.0L500.0,179.5L495.0,177.0L487.5,178.8L483.8,182.5L482.5,187.5L476.2,186.2L468.8,185.5L461.2,187.0L458.5,190.0L457.2,193.0L458.0,196.0L460.0,199.0L461.5,201.5L460.5,203.5L461.2,205.5L462.5,208.0L463.8,210.5L464.8,212.5L461.5,210.5L458.0,209.0L454.0,207.5L450.0,206.2L446.0,204.0L443.0,202.2L440.0,201.0L440.0,198.8L443.0,196.2L443.8,191.2L440.0,188.0L435.0,186.2L430.0,185.0L425.0,182.5L423.8,178.8L421.2,175.0L417.0,172.5L416.2,168.8L415.5,163.8L418.0,160.0L416.2,156.2L413.8,150.0Z"/>
<path class="c4" d="M446.9,137.6L448.5,132.6L453.6,130.1L460.2,128.4L466.9,128.1L465.2,129.7L458.6,130.9L454.4,133.4L452.7,136.8L456.9,140.1L453.6,140.9L449.4,139.8Z"/>
<path class="c4" d="M493.8,121.2L498.8,120.0L505.0,122.0L510.0,124.5L506.2,125.0L500.0,123.8L495.0,123.0Z"/>
<path class="c4" d="M510.0,123.8L515.0,124.0L517.5,125.5L512.5,125.5Z"/>
<path class="c4" d="M426.5,120.9L431.0,120.0L436.0,120.7L433.5,121.7L429.3,121.7Z"/>
<path class="c4" d="M573.8,130.0L578.8,129.0L586.2,130.5L585.0,132.0L578.8,132.0L575.0,131.5Z"/>
<path class="c4" d="M588.8,131.0L596.2,131.5L595.5,132.5L589.5,132.2Z"/>
<path class="c4" d="M580.0,131.2L587.5,130.5L596.2,131.5L595.0,132.5L586.2,133.0L580.0,132.5Z"/>
<path class="c4" d="M655.0,138.8L657.5,139.5L656.2,140.5Z"/>
<path class="c4" d="M640.0,180.0L642.5,182.5L646.2,187.5L651.2,193.8L655.0,200.0L653.8,200.5L650.0,196.2L645.5,190.5L642.0,185.0Z"/>
<path class="c4" d="M656.2,203.8L660.0,205.0L665.0,204.5L667.0,207.0L663.8,210.0L660.0,211.2L657.0,208.8Z"/>
<path class="c4" d="M660.0,212.5L663.8,216.2L666.2,221.2L668.0,226.2L666.2,229.5L661.2,231.2L656.2,230.0L652.5,231.2L648.8,232.5L651.2,228.8L655.0,227.0L658.8,223.8L660.0,218.8L658.8,215.0Z"/>
<path class="c4" d="M647.5,233.8L651.2,235.0L652.5,238.0L650.0,238.8L647.0,236.2Z"/>
<path class="c4" d="M636.2,220.5L640.0,220.0L642.5,223.8L643.8,228.0L641.2,230.5L638.0,229.5L636.2,225.0Z"/>
<path class="c4" d="M401.5,178.0L403.5,176.5L405.0,177.0L407.5,179.0L404.5,179.0L401.5,179.0Z"/>
<path class="c6" d="M127.7,143.1L104.3,164.8L106.0,166.8L108.5,167.6L111.9,167.6L113.0,170.1L112.7,173.5L114.0,176.0L112.7,177.1L111.0,176.8L110.7,173.5L109.9,171.0L107.2,169.8L104.8,168.4L102.7,165.9L100.2,164.8L96.8,164.3L93.5,163.8L91.0,164.8L87.6,165.9L83.5,166.8L88.5,163.1L85.1,163.8L80.1,165.9L75.9,167.6L72.6,168.9L68.4,170.5L63.4,172.6L58.4,174.3L53.4,176.0L48.4,177.6L44.2,178.8L44.2,178.0L50.0,176.0L56.7,173.5L63.4,171.0L68.4,168.9L65.1,168.4L61.7,168.1L60.1,165.1L60.9,162.6L64.2,160.6L67.6,159.3L71.8,158.1L75.9,157.1L80.1,155.1L77.6,154.2L73.8,155.1L70.9,154.2L70.9,152.1L74.3,151.2L79.3,150.4L81.8,148.4L82.6,145.9L86.0,144.7L91.0,143.4L96.0,141.7L101.8,140.7L107.7,139.7L111.9,140.9L116.9,141.4L122.7,142.1Z"/>
<path class="c6" d="M56.7,157.1L60.9,157.8L60.6,158.4L56.7,157.8Z"/>
<path class="c6" d="M55.1,164.3L58.4,164.1L58.4,165.4L55.1,165.4Z"/>
<path class="c6" d="M114.2,192.6L171.9,192.6L172.7,191.4L173.5,193.1L176.9,194.2L183.6,195.1L188.6,197.6L191.1,200.1L191.9,203.4L190.2,207.6L188.2,210.9L191.9,210.1L196.9,208.1L201.9,205.9L206.9,204.2L212.0,203.4L215.3,201.7L218.6,199.2L221.1,197.1L223.6,197.6L224.1,200.1L222.0,202.6L218.6,204.7L215.3,207.1L215.6,209.3L212.8,210.9L209.4,212.6L206.9,213.8L205.3,214.8L202.8,217.6L200.6,219.3L199.4,221.8L198.9,224.3L196.9,227.6L193.6,230.1L190.2,232.6L186.9,235.2L184.4,237.7L183.1,240.2L183.6,244.3L184.4,248.5L183.6,252.7L181.5,254.4L180.2,251.9L178.9,247.7L178.2,243.5L176.0,241.5L172.7,241.0L168.5,241.8L165.2,242.2L161.8,243.2L158.5,242.7L154.3,244.3L150.1,246.0L146.8,248.5L144.8,252.2L143.1,251.9L141.0,247.7L139.3,244.3L136.8,242.7L133.8,243.5L131.8,242.2L129.8,239.3L127.6,237.7L123.4,237.7L120.9,236.8L115.1,236.0L106.7,234.3L104.2,231.8L100.9,228.5L99.2,223.5L98.7,217.6L100.0,212.6L102.5,208.4L105.9,203.4L108.4,199.2L110.4,195.9L111.7,193.4L114.2,195.1Z"/>
<path class="c6" d="M539.0,193.0L542.0,194.6L546.0,197.0L550.0,200.0L554.0,202.6L558.0,204.0L563.0,206.0L569.0,208.0L575.0,208.6L581.0,210.0L585.0,210.6L590.0,209.4L594.0,207.0L595.0,204.0L599.0,201.0L604.0,198.6L607.4,197.0L605.0,195.4L601.0,195.0L598.0,193.0L599.0,189.4L601.0,186.6L600.0,183.4L603.0,182.0L608.0,182.6L613.0,185.0L617.0,188.0L621.0,190.6L626.0,193.0L631.0,195.0L635.0,194.6L637.4,197.0L637.0,201.0L635.4,204.0L636.0,207.0L634.6,209.4L632.6,210.6L630.0,212.0L627.0,214.0L624.6,216.0L623.0,217.4L621.0,215.4L619.0,214.0L616.0,216.6L615.0,219.0L617.4,221.0L621.0,221.4L624.0,222.6L627.0,223.4L624.6,225.0L623.0,227.4L624.6,230.0L627.0,234.0L630.0,238.0L632.6,242.0L634.0,245.0L633.0,249.0L631.0,253.0L628.6,256.6L625.0,259.4L621.0,261.4L617.0,263.4L613.0,264.6L609.0,263.4L605.0,262.0L601.0,261.0L597.0,261.4L593.0,264.0L590.0,263.0L588.0,260.6L585.0,259.0L583.0,256.6L584.0,253.0L582.0,249.0L579.0,246.0L576.0,244.6L573.0,244.0L570.0,245.4L566.0,246.6L562.0,247.4L558.0,246.0L554.0,244.6L550.0,243.4L546.0,242.0L542.0,240.0L538.0,238.0L536.0,235.0L534.0,232.0L531.0,228.6L527.4,225.0L524.0,222.0L521.0,219.0L520.6,216.6L524.0,214.6L528.0,213.0L530.0,210.0L529.0,206.0L529.4,203.0L533.0,202.0L534.0,199.0L537.0,196.6Z"/>
<path class="c6" d="M610.0,268.0L613.0,267.4L614.0,270.0L612.0,272.0L609.6,270.6Z"/>
<path class="c6" d="M9.0,269.0L10.0,267.5L11.5,268.0L12.0,269.2L10.5,270.0L9.2,270.8Z"/>
<path class="c6" d="M5.0,263.3L6.2,263.6L7.2,264.2L6.6,264.4L5.2,264.0Z"/>
<path class="c6" d="M7.6,264.6L9.0,265.0L9.6,265.6L8.4,265.4Z"/>
<path class="c6" d="M2.0,262.2L3.4,262.1L3.5,262.6L2.2,262.7Z"/>
</g>
<g id="legend">
<rect x="155.5" y="537.5" width="48" height="10.5" fill="url(#hatch2)" stroke="#c9c9c9" stroke-width="1"/>
<line x1="179.5" y1="534" x2="179.5" y2="537" stroke="#c9c9c9" stroke-width="1"/>
<rect x="223" y="537" width="78.5" height="11" fill="#edf8fb"/>
<rect x="301.5" y="537" width="78.5" height="11" fill="#bfd3e6"/>
<rect x="380" y="537" width="78.5" height="11" fill="#9ebcda"/>
<rect x="458.5" y="537" width="78.5" height="11" fill="#8c96c6"/>
<rect x="537" y="537" width="78.5" height="11" fill="#8856a7"/>
<path d="M615.5,537H689L694.5,542.5L689,548H615.5Z" fill="#810f7c"/>
<path d="M223,537H689L694.5,542.5L689,548H223Z" fill="none" stroke="#bbb" stroke-width=".6"/>
<g stroke="#bbb" stroke-width=".8">
<line x1="223" y1="533" x2="223" y2="548"/><line x1="301.5" y1="533" x2="301.5" y2="548"/><line x1="380" y1="533" x2="380" y2="548"/><line x1="458.5" y1="533" x2="458.5" y2="548"/><line x1="537" y1="533" x2="537" y2="548"/><line x1="615.5" y1="533" x2="615.5" y2="548"/>
</g>
<text class="lg" x="179.5" y="530" text-anchor="middle">No data</text>
<text class="lg" x="224.2" y="530" text-anchor="middle">0 t</text>
<text class="lg" x="302.7" y="530" text-anchor="middle">1 million t</text>
<text class="lg" x="381.2" y="530" text-anchor="middle">3 million t</text>
<text class="lg" x="459.7" y="530" text-anchor="middle">10 million t</text>
<text class="lg" x="538.2" y="530" text-anchor="middle">30 million t</text>
<text class="lg" x="616.7" y="530" text-anchor="middle">100 million t</text>
</g>
</svg>
<div id="src" class="t"><b>Data source:</b> <span>Global Carbon Budget (2025)</span></div>
<div id="url" class="t">OurWorldinData.org/co2-and-greenhouse-gas-emissions | CC BY</div>
</body>
</html>
